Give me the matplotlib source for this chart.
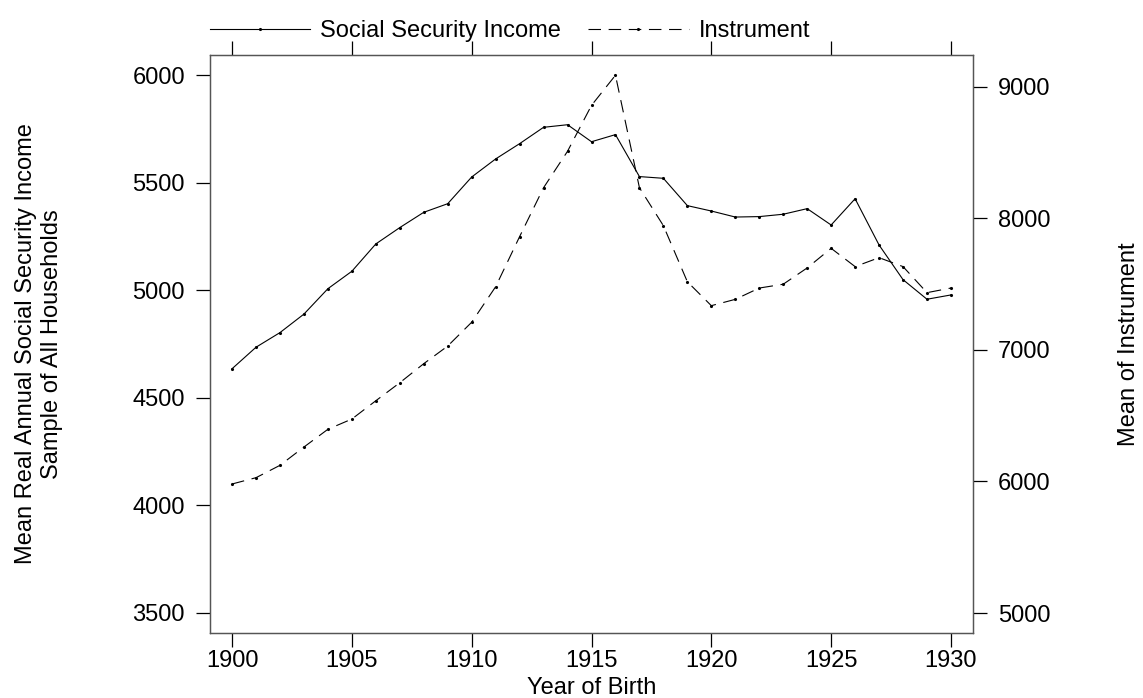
# Social security income vs instrument by year of birth

import numpy as np
import matplotlib
matplotlib.use('Agg')
import matplotlib.pyplot as plt

plt.rcParams['font.family'] = ['Liberation Sans', 'DejaVu Sans']
plt.rcParams['font.size'] = 17
plt.rcParams['lines.scale_dashes'] = False

# ====> data
years = list(range(1900, 1931))
ss_income = [4635, 4735, 4803, 4889, 5007, 5088, 5215, 5291, 5362, 5402,
             5526, 5610, 5681, 5757, 5769, 5690, 5723, 5528, 5520, 5393,
             5368, 5340, 5342, 5353, 5379, 5303, 5425, 5210, 5049, 4958, 4978]
instrument = [5981, 6029, 6123, 6262, 6397, 6475, 6614, 6751, 6896, 7030,
              7211, 7481, 7862, 8234, 8511, 8860, 9089, 8234, 7945, 7519,
              7337, 7385, 7471, 7500, 7624, 7773, 7634, 7702, 7634, 7436, 7471]
x_ticks = [1900, 1905, 1910, 1915, 1920, 1925, 1930]
left_ticks = [3500, 4000, 4500, 5000, 5500, 6000]
right_ticks = [5000, 6000, 7000, 8000, 9000]

fig = plt.figure(figsize=(11.43, 6.98), dpi=100)
ax = fig.add_axes([210/1143, 1 - 633/698, 763/1143, 578/698])
ax2 = ax.twinx()

line1, = ax.plot(years, ss_income, color='black', lw=0.8,
                 marker='.', markersize=2.5, label='Social Security Income')
line2, = ax2.plot(years, instrument, color='black', lw=0.8, dashes=(9, 5.5),
                  marker='.', markersize=2.5, label='Instrument')

ax.set_xlim(1899.08, 1930.92)
ax.set_ylim(3407, 6093)
ax2.set_ylim(4848, 9243)

ax.set_xticks(x_ticks)
ax.set_yticks(left_ticks)
ax2.set_yticks(right_ticks)

for a in (ax, ax2):
    for s in a.spines.values():
        s.set_color('#555555')
        s.set_linewidth(0.9)
    a.tick_params(direction='out', length=10, width=0.9, color='black', pad=8)
ax.tick_params(axis='x', top=True, labeltop=False, pad=2)

ax.set_xlabel('Year of Birth', labelpad=4)
ax.set_ylabel('Mean Real Annual Social Security Income\nSample of All Households',
              ha='center', va='center', multialignment='center')
ax.yaxis.set_label_coords(-0.224, 0.5)
ax2.set_ylabel('Mean of Instrument', ha='center', va='center')
ax2.yaxis.set_label_coords(1.2045, 0.5)

fig.legend(handles=[line1, line2], loc='center left', ncol=2, frameon=False,
           bbox_to_anchor=(210/1143, 1 - 31/698), borderpad=0, borderaxespad=0,
           handlelength=4.25, handletextpad=0.42, columnspacing=1.15)

fig.savefig('out.png', dpi=100, facecolor='white')
